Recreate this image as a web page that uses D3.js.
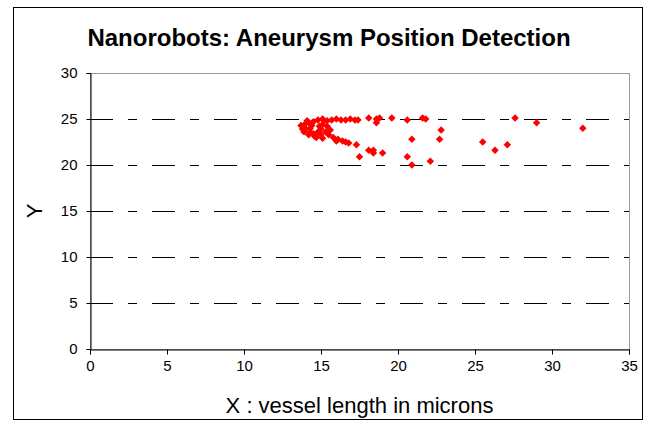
<!DOCTYPE html>
<html>
<head>
<meta charset="utf-8">
<script src="https://cdn.jsdelivr.net/npm/d3@7"></script>
<style>
  body { margin: 0; background: #fff; }
  text { font-family: "Liberation Sans", Arial, sans-serif; }
</style>
</head>
<body>
<script>
// x positions (microns) and y positions of the detected points
var xs = [
  27.6, 29.0, 32.0, 25.5, 26.3, 27.1, 22.8, 22.7, 22.1, 20.9, 20.6, 20.9,
  21.6, 21.8, 20.6, 19.6, 18.8, 18.6, 18.6, 18.1, 19.0, 18.4, 18.4, 18.1,
  17.5, 17.3,
  14.8, 15.1, 15.4, 15.7, 16.0, 16.3, 16.6, 16.9, 17.2, 17.4,
  13.7, 13.8, 13.9, 14.0, 14.2, 14.3, 14.5, 14.1, 14.6,
  15.0, 15.3, 15.5, 15.8, 16.1, 16.4, 16.8, 15.1, 15.4, 15.6, 15.1, 14.7,
  14.0, 14.3, 14.5, 14.4, 14.8, 14.9, 15.2, 15.0, 14.2, 13.9, 16.0, 16.6
];
var ys = [
  25.1, 24.6, 24.0, 22.5, 21.6, 22.2, 23.8, 22.8, 20.4, 20.0, 20.9, 22.8,
  25.1, 25.0, 24.9, 25.1, 25.1, 25.0, 24.6, 25.1, 21.3, 21.6, 21.3, 21.6,
  20.9, 22.2,
  24.9, 25.0, 24.8, 24.9, 25.0, 24.9, 24.9, 25.0, 24.9, 24.9,
  24.3, 23.9, 23.6, 24.5, 23.3, 24.0, 24.7, 24.8, 23.1,
  23.9, 23.6, 23.3, 23.0, 22.8, 22.6, 22.4, 24.4, 24.2, 23.8, 22.9, 23.0,
  23.9, 23.6, 23.4, 24.3, 23.6, 24.2, 24.8, 23.3, 24.6, 24.1, 22.6, 22.5
];
var xTicks = [0, 5, 10, 15, 20, 25, 30, 35];
var yTicks = [0, 5, 10, 15, 20, 25, 30];

var W = 652, H = 421;
var plot = {left: 90, right: 629, top: 73, bottom: 349};

var svg = d3.select("body").append("svg")
    .attr("width", W)
    .attr("height", H);

// outer chart frame
svg.append("rect")
    .attr("x", 13.5).attr("y", 7.5)
    .attr("width", 629).attr("height", 412)
    .attr("fill", "#fff")
    .attr("stroke", "#000")
    .attr("stroke-width", 1);

var xScale = d3.scaleLinear().domain([0, 35]).range([plot.left, plot.right]);
var yScale = d3.scaleLinear().domain([0, 30]).range([plot.bottom, plot.top]);

// plot area border (grey)
svg.append("rect")
    .attr("x", plot.left + 0.5).attr("y", plot.top + 0.5)
    .attr("width", plot.right - plot.left).attr("height", plot.bottom - plot.top)
    .attr("fill", "none")
    .attr("stroke", "#999")
    .attr("stroke-width", 1);

// dashed gridlines (long dash - short dash)
svg.append("g")
    .selectAll("line")
    .data(yTicks.filter(function(d) { return d > 0; }))
    .enter().append("line")
    .attr("x1", plot.left).attr("x2", plot.right)
    .attr("y1", function(d) { return Math.round(yScale(d)) + 0.5; })
    .attr("y2", function(d) { return Math.round(yScale(d)) + 0.5; })
    .attr("stroke", function(d) { return d == 30 ? "#999" : "#000"; })
    .attr("stroke-width", 1)
    .attr("stroke-dasharray", "23,15,9,15");

// axes
var xAxis = svg.append("g")
    .attr("transform", "translate(0," + (plot.bottom + 0.5) + ")")
    .call(d3.axisBottom(xScale).tickValues(xTicks).tickSize(5).tickPadding(6));
var yAxis = svg.append("g")
    .attr("transform", "translate(" + (plot.left + 0.5) + ",0)")
    .call(d3.axisLeft(yScale).tickValues(yTicks).tickSize(4).tickPadding(9));

[xAxis, yAxis].forEach(function(a) {
  a.select(".domain").attr("stroke", "#000");
  a.selectAll(".tick line").attr("stroke", "#000");
  a.selectAll("text")
      .attr("fill", "#000")
      .style("font-family", "'Liberation Sans', Arial, sans-serif")
      .style("font-size", "15px");
});

// points
var pts = xs.map(function(x, i) { return {x: x, y: ys[i]}; });
svg.append("g")
    .selectAll("path")
    .data(pts)
    .enter().append("path")
    .attr("d", d3.symbol().type(d3.symbolSquare).size(28))
    .attr("transform", function(d) {
      return "translate(" + xScale(d.x) + "," + yScale(d.y) + ") rotate(45)";
    })
    .attr("fill", "#ff0000");

// title and axis labels
svg.append("text")
    .attr("x", 329).attr("y", 46)
    .attr("text-anchor", "middle")
    .style("font-size", "24px")
    .style("font-weight", "bold")
    .text("Nanorobots: Aneurysm Position Detection");

svg.append("text")
    .attr("x", (plot.left + plot.right) / 2).attr("y", 413)
    .attr("text-anchor", "middle")
    .style("font-size", "22px")
    .text("X : vessel length in microns");

svg.append("text")
    .attr("transform", "translate(42," + ((plot.top + plot.bottom) / 2) + ") rotate(-90)")
    .attr("text-anchor", "middle")
    .style("font-size", "22px")
    .text("Y");
</script>
</body>
</html>
